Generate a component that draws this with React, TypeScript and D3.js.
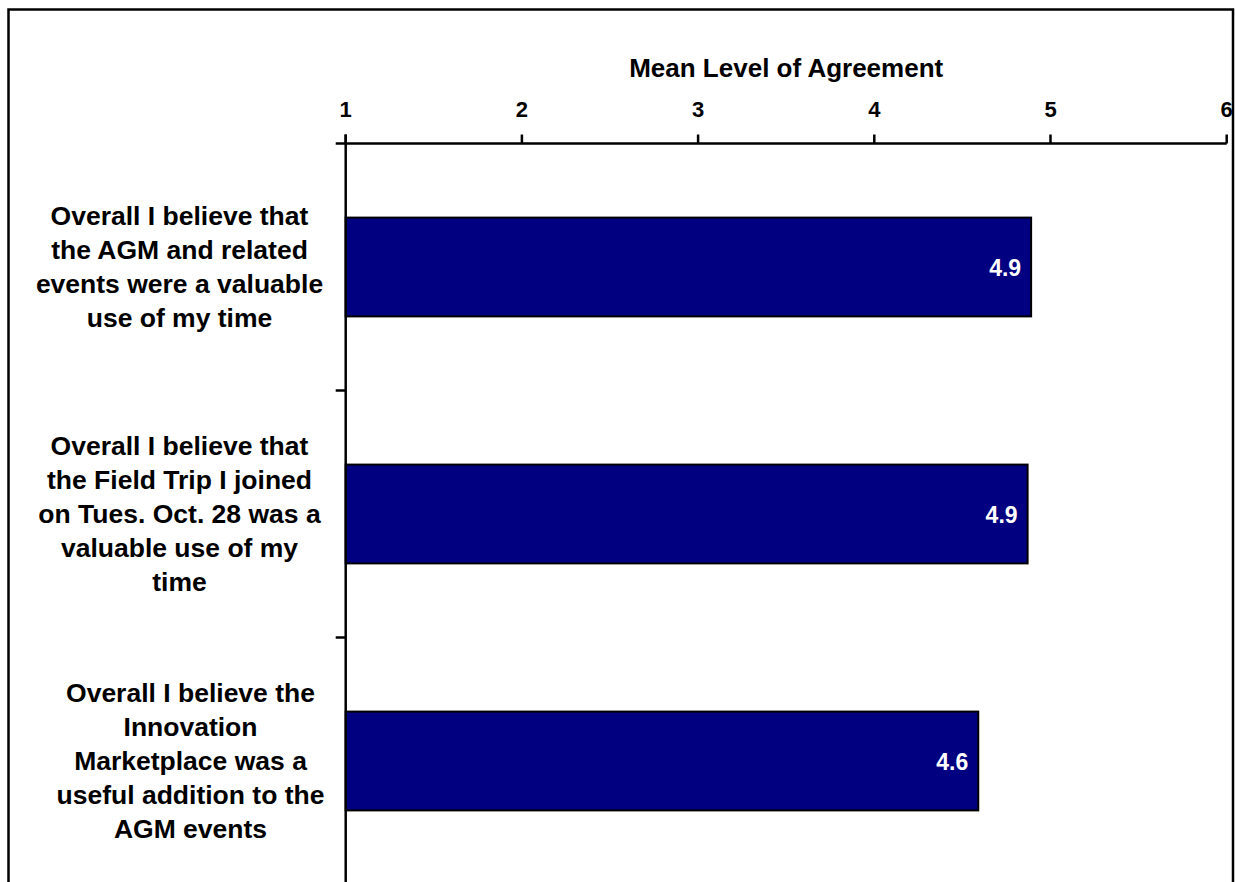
import React from "react";
import * as d3 from "d3";

const categories = [
  "Overall I believe that the AGM and related events were a valuable use of my time",
  "Overall I believe that the Field Trip I joined on Tues. Oct. 28 was a valuable use of my time",
  "Overall I believe the Innovation Marketplace was a useful addition to the AGM events",
];
const categoryLines = [
  ["Overall I believe that", "the AGM and related", "events were a valuable", "use of my time"],
  ["Overall I believe that", "the Field Trip I joined", "on Tues. Oct. 28 was a", "valuable use of my", "time"],
  ["Overall I believe the", "Innovation", "Marketplace was a", "useful addition to the", "AGM events"],
];
const values = [4.89, 4.87, 4.59];
const xTicks = [1, 2, 3, 4, 5, 6];
const axisTitle = "Mean Level of Agreement";

const W = 1235;
const H = 882;
const FONT = "'Liberation Sans', Arial, Helvetica, sans-serif";

export default function App() {
  const x = d3.scaleLinear().domain([1, 6]).range([345.7, 1226.7]);
  const y = d3
    .scaleBand<string>()
    .domain(categories)
    .range([143.5, 884.5])
    .paddingInner(0.6)
    .paddingOuter(0.3);
  const step = y.step();
  const axisY = 143.5;
  const labelCenterX = [179.5, 179.5, 190.5];
  const fmt = d3.format(".1f");
  const lineGap = 34;

  return (
    <svg
      width={W}
      height={H}
      style={{ position: "absolute", left: 0, top: 0, background: "#fff" }}
      fontFamily={FONT}
    >
      <rect x={0} y={0} width={W} height={H} fill="#fff" />
      {/* outer frame */}
      <rect x={8.5} y={9.5} width={1224.5} height={900} fill="none" stroke="#000" strokeWidth={2.5} />

      {/* title */}
      <text x={(x(1) + x(6)) / 2} y={77} textAnchor="middle" fontSize={26} fontWeight="bold" fill="#000">
        {axisTitle}
      </text>

      {/* bars */}
      {categories.map((c, i) => (
        <g key={c}>
          <rect
            x={x(1)}
            y={y(c)!}
            width={x(values[i]) - x(1)}
            height={y.bandwidth()}
            fill="#000080"
            stroke="#000"
            strokeWidth={2}
          />
          <text
            x={x(values[i]) - 10}
            y={y(c)! + y.bandwidth() / 2 + 9}
            textAnchor="end"
            fontSize={23}
            fontWeight="bold"
            fill="#fff"
          >
            {fmt(values[i])}
          </text>
        </g>
      ))}

      {/* x axis (top) */}
      <line x1={x(1)} x2={x(6)} y1={axisY} y2={axisY} stroke="#000" strokeWidth={2.5} />
      {xTicks.map((t) => (
        <g key={t}>
          <line x1={x(t)} x2={x(t)} y1={axisY - 9} y2={axisY} stroke="#000" strokeWidth={2.5} />
          <text x={x(t)} y={116.5} textAnchor="middle" fontSize={22} fontWeight="bold" fill="#000">
            {t}
          </text>
        </g>
      ))}

      {/* category axis */}
      <line x1={x(1)} x2={x(1)} y1={axisY - 9} y2={H + 10} stroke="#000" strokeWidth={2.5} />
      {d3.range(categories.length + 1).map((k) => {
        const yy = axisY + k * step;
        return <line key={k} x1={x(1) - 10} x2={x(1)} y1={yy} y2={yy} stroke="#000" strokeWidth={2.5} />;
      })}
      {categories.map((c, i) => {
        const cy = y(c)! + y.bandwidth() / 2;
        const lines = categoryLines[i];
        const n = lines.length;
        return (
          <text key={c} textAnchor="middle" fontSize={26.5} fontWeight="bold" fill="#000">
            {lines.map((l, j) => (
              <tspan key={j} x={labelCenterX[i]} y={cy + (j - (n - 1) / 2) * lineGap + 9}>
                {l}
              </tspan>
            ))}
          </text>
        );
      })}
    </svg>
  );
}
